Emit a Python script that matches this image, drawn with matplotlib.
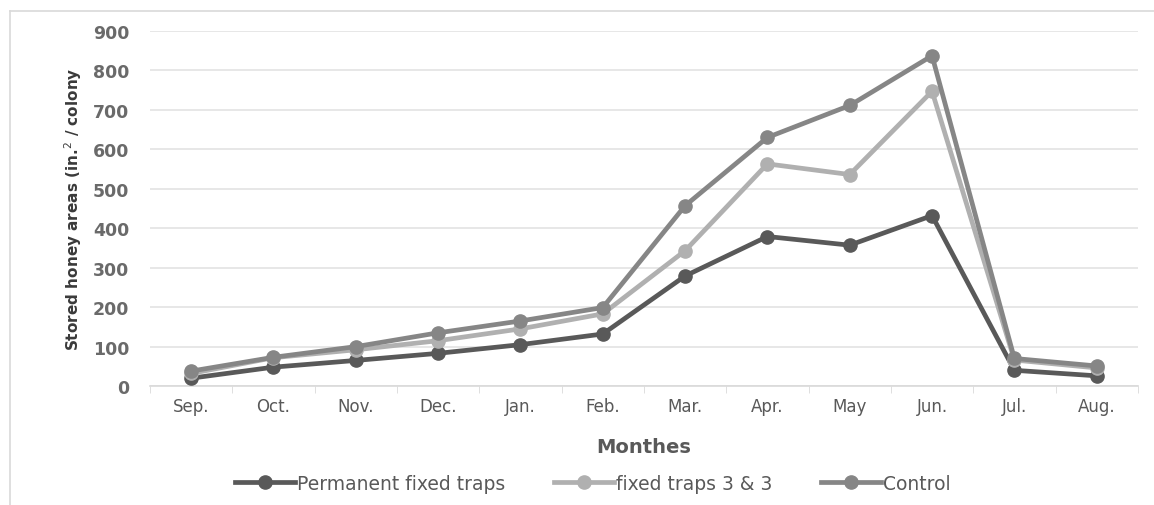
import numpy as np
import matplotlib.pyplot as plt
from matplotlib.lines import Line2D

plt.rcParams['font.family'] = ['DejaVu Sans']

# Data
months = ['Sep.', 'Oct.', 'Nov.', 'Dec.', 'Jan.', 'Feb.', 'Mar.', 'Apr.', 'May', 'Jun.', 'Jul.', 'Aug.']
permanent = [20, 48, 65, 83, 105, 132, 279, 379, 357, 432, 40, 26]
fixed_33 = [32, 72, 92, 115, 145, 183, 343, 563, 536, 747, 66, 46]
control = [38, 73, 100, 135, 165, 199, 457, 630, 711, 837, 70, 51]

series = [
    ('Permanent fixed traps', permanent, '#595959'),
    ('fixed traps 3 & 3', fixed_33, '#b0b0b0'),
    ('Control', control, '#868686'),
]
txt = '#595959'

fig = plt.figure(figsize=(11.54, 5.06), dpi=100)
ax = fig.add_axes([0.130, 0.235, 0.856, 0.702])

x = np.arange(len(months))
for name, vals, col in series:
    ax.plot(x, vals, color=col, lw=3.4, marker='o', ms=9.5, label=name, zorder=3)

ax.set_xlim(-0.5, len(months) - 0.5)
ax.set_ylim(0, 900)
ax.set_yticks(range(0, 901, 100))
ax.set_xticks(x)
ax.set_xticklabels(months)
ax.set_xticks(np.arange(-0.5, len(months), 1), minor=True)
ax.tick_params(axis='x', which='major', length=0, pad=8, labelsize=12, colors=txt)
ax.tick_params(axis='x', which='minor', length=5, color='#d9d9d9', direction='out')
ax.tick_params(axis='y', length=0, pad=15, labelsize=12.5, colors=txt)
for lbl in ax.get_yticklabels():
    lbl.set_fontweight('bold')
    lbl.set_color('#6a6a6a')

ax.grid(axis='y', color='#e3e3e3', lw=1.2, zorder=0)
for s in ['top', 'right', 'left']:
    ax.spines[s].set_visible(False)
ax.spines['bottom'].set_color('#d9d9d9')
ax.spines['bottom'].set_linewidth(1.2)

ax.set_xlabel('Monthes', fontsize=14, fontweight='bold', color=txt, labelpad=16)
ax.set_ylabel('Stored honey areas (in.$^{2}$ / colony', fontsize=11, fontweight='bold',
              color='#3a3a3a', labelpad=6, family=['Liberation Sans Narrow', 'DejaVu Sans'])

handles = [Line2D([0], [0], color=c, lw=3.4, marker='o', ms=9.5) for _, _, c in series]
fig.legend(handles, [s[0] for s in series], loc='center', bbox_to_anchor=(0.514, 0.043),
           ncol=3, frameon=False, fontsize=13.5, handlelength=3.2, handletextpad=0.1,
           columnspacing=2.6, labelcolor=txt)

# outer chart frame
fig.add_artist(Line2D([0.009, 0.009], [0, 0.976], color='#d9d9d9', lw=1.2))
fig.add_artist(Line2D([0.009, 1.0], [0.976, 0.976], color='#d9d9d9', lw=1.2))

fig.savefig('out.png', dpi=100)
